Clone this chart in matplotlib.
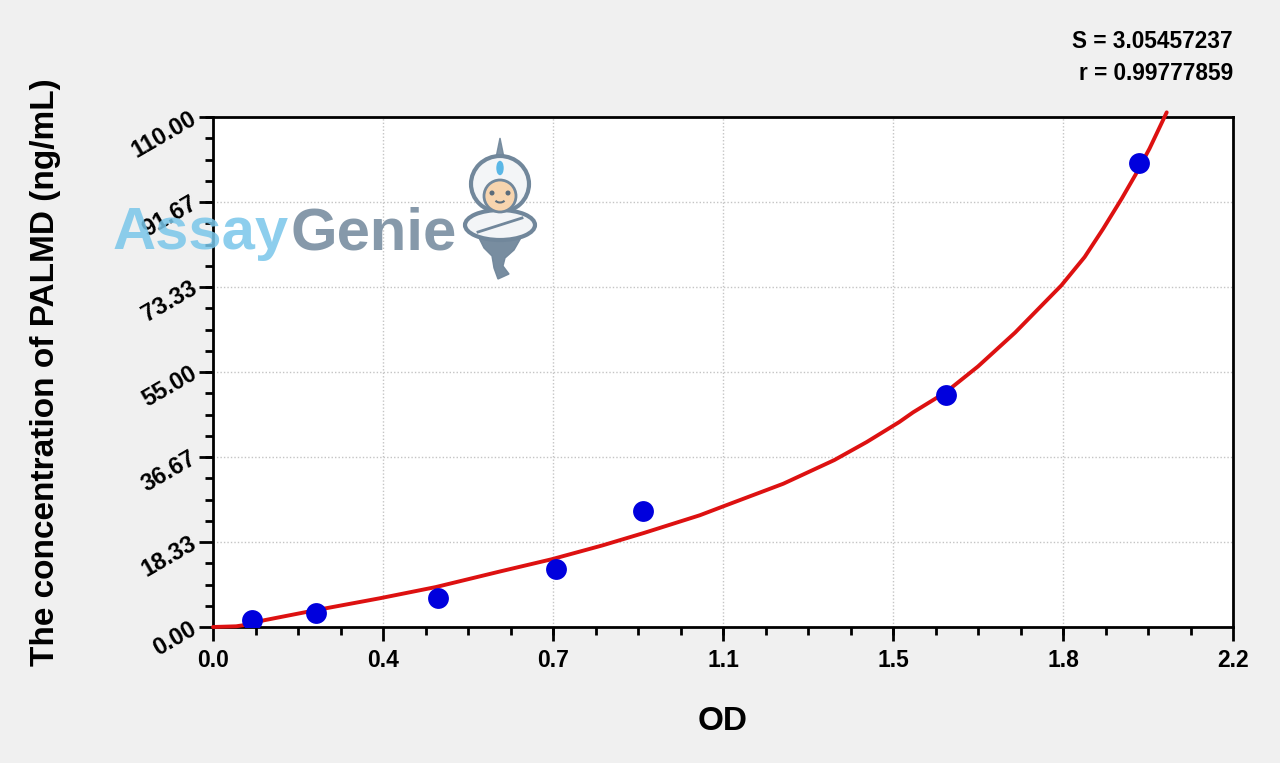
import matplotlib
matplotlib.use("Agg")
import matplotlib.pyplot as plt
from matplotlib.ticker import FixedLocator, AutoMinorLocator
from matplotlib.patches import Ellipse, Circle, Polygon, Arc

# ---- data ----
od_points = [0.084, 0.222, 0.486, 0.740, 0.928, 1.581, 1.997]
conc_points = [1.56, 3.12, 6.25, 12.5, 25.0, 50.0, 100.0]

curve_od = [0.0, 0.05, 0.08, 0.11, 0.22, 0.36, 0.48, 0.62, 0.73, 0.84, 0.93,
            1.05, 1.10, 1.23, 1.34, 1.41, 1.48, 1.51, 1.58, 1.65, 1.73, 1.78,
            1.83, 1.88, 1.92, 1.96, 1.99, 2.02, 2.057]
curve_conc = [0.0, 0.15, 0.6, 1.45, 3.6, 6.2, 8.6, 12.0, 14.6, 17.6, 20.3,
              24.1, 26.0, 30.9, 36.0, 39.9, 44.2, 46.3, 50.6, 56.2, 63.5, 68.6,
              73.7, 79.8, 85.9, 92.4, 97.6, 103.2, 111.0]

x_ticks = [0.0, 0.3667, 0.7333, 1.1, 1.4667, 1.8333, 2.2]
x_tick_labels = ["0.0", "0.4", "0.7", "1.1", "1.5", "1.8", "2.2"]
y_ticks = [0.0, 18.33, 36.67, 55.0, 73.33, 91.67, 110.0]
y_tick_labels = ["0.00", "18.33", "36.67", "55.00", "73.33", "91.67", "110.00"]

stat_s = "S = 3.05457237"
stat_r = "r = 0.99777859"
x_label = "OD"
y_label = "The concentration of PALMD (ng/mL)"
wm_a = "Assay"
wm_b = "Genie"

FONT = "Liberation Sans"
W, H = 1280, 763

fig = plt.figure(figsize=(12.8, 7.63), dpi=100, facecolor="#f0f0f0")
ax = fig.add_axes([213/W, 1 - 627/H, 1020/W, 510/H])
ax.set_facecolor("white")

ax.plot(curve_od, curve_conc, color="#dd1111", lw=2.8, zorder=3, clip_on=False,
        solid_capstyle="round", solid_joinstyle="round")
ax.plot(od_points, conc_points, "o", color="#0000dd", ms=15, zorder=4,
        markeredgewidth=0)

ax.set_xlim(0, 2.2)
ax.set_ylim(0, 110)
ax.xaxis.set_major_locator(FixedLocator(x_ticks))
ax.yaxis.set_major_locator(FixedLocator(y_ticks))
ax.xaxis.set_minor_locator(AutoMinorLocator(4))
ax.yaxis.set_minor_locator(AutoMinorLocator(4))
ax.set_xticklabels(x_tick_labels, fontfamily=FONT, fontweight="bold", fontsize=16.5)
ax.set_yticklabels(y_tick_labels, fontfamily=FONT, fontweight="bold", fontsize=17,
                   rotation=30, ha="right", va="center", rotation_mode="anchor")

ax.tick_params(axis="both", which="major", direction="out", length=10, width=2,
               color="black")
ax.tick_params(axis="both", which="minor", direction="out", length=6, width=2,
               color="black")
ax.tick_params(axis="x", which="major", pad=6)
ax.tick_params(axis="y", which="major", pad=3)

for s in ax.spines.values():
    s.set_linewidth(2)
    s.set_color("black")

ax.grid(True, which="major", color="#c4c4c4", linestyle=(0, (1, 1.5)), lw=1)
ax.set_axisbelow(True)

fig.text(723/W, 1 - 722/H, x_label, ha="center", va="center",
         fontfamily=FONT, fontweight="bold", fontsize=24)
fig.text(46/W, 1 - 372/H, y_label, ha="center", va="center", rotation=90,
         fontfamily=FONT, fontweight="bold", fontsize=24)

fig.text(1233/W, 1 - 42/H, stat_s, ha="right", va="center",
         fontfamily=FONT, fontweight="bold", fontsize=16.3)
fig.text(1233/W, 1 - 73/H, stat_r, ha="right", va="center",
         fontfamily=FONT, fontweight="bold", fontsize=16.3)

# ---- watermark overlay in pixel coordinates ----
ov = fig.add_axes([0, 0, 1, 1], zorder=20)
ov.set_xlim(0, W)
ov.set_ylim(H, 0)
ov.axis("off")
ov.patch.set_alpha(0)

t1 = ov.text(113, 249, wm_a, ha="left", va="baseline", fontfamily=FONT,
             fontweight="bold", fontsize=43, color="#79c6ea", alpha=0.85)
fig.canvas.draw()
bb = t1.get_window_extent()
x_end = ov.transData.inverted().transform((bb.x1, bb.y0))[0]
ov.text(x_end + 1, 249, wm_b, ha="left", va="baseline", fontfamily=FONT,
        fontweight="bold", fontsize=43, color="#71879b", alpha=0.85)

grey = "#71879b"
white = "#f3f5f7"
# spike
ov.add_patch(Polygon([[500, 138], [495.5, 160], [504.5, 160]], closed=True,
                     color=grey, alpha=0.9))
# turban
ov.add_patch(Ellipse((500, 184), 58, 56, facecolor=white, edgecolor=grey, lw=3))
# gem
ov.add_patch(Ellipse((500, 168), 6, 13, color="#5ab7e6"))
# tail
ov.add_patch(Polygon([[478, 236], [522, 236], [514, 250], [505, 258], [503, 266],
                      [509, 274], [498, 279], [494, 268], [492, 256], [484, 248]],
                     closed=True, color=grey, alpha=0.95))
# arms
ov.add_patch(Ellipse((500, 225), 70, 30, facecolor=white, edgecolor=grey, lw=3))
ov.plot([478, 522], [232, 218], color=grey, lw=2)
# face
ov.add_patch(Circle((500, 196), 16, facecolor="#f7d4ae", edgecolor=grey, lw=2))
ov.add_patch(Circle((492, 193), 1.8, color="#5a6b7a"))
ov.add_patch(Circle((508, 193), 1.8, color="#5a6b7a"))
ov.add_patch(Arc((500, 199), 10, 7, theta1=20, theta2=160, color="#5a6b7a", lw=1.5))

fig.savefig("out.png", dpi=100, facecolor=fig.get_facecolor())
